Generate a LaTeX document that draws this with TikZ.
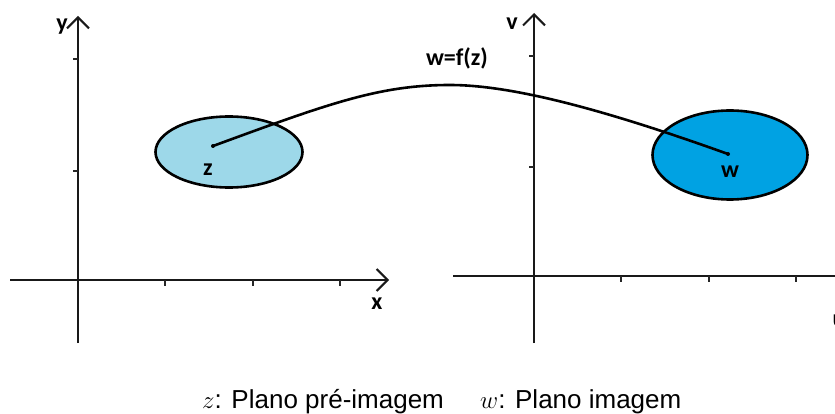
\documentclass[tikz,border=0pt]{standalone}
\usepackage{fontspec}
\setmainfont{Liberation Sans}
\newfontfamily\labelfont{Carlito}
\usetikzlibrary{arrows.meta, positioning, shapes.geometric}
\definecolor{zblue}{HTML}{9DD8E9}
\definecolor{wblue}{HTML}{00A2E3}

\begin{document}
\begin{tikzpicture}[
    x=1pt, y=-1pt,
    axis/.style={line width=2pt, draw=black!90},
    axisarrow/.style={axis, -{Straight Barb[length=11pt, width=22pt, line width=2pt]}},
    tick/.style={line width=1.6pt, draw=black!85},
    region/.style={ellipse, draw=black, line width=2.6pt, inner sep=0pt},
    lbl/.style={font=\labelfont\bfseries\fontsize{24}{24}\selectfont, inner sep=0pt},
    caption/.style={font=\fontsize{26}{26}\selectfont, inner sep=0pt, anchor=base west},
    mapping/.style={line width=2.6pt, line cap=round}
]
\useasboundingbox (0,0) rectangle (835,414);
\clip (0,0) rectangle (835,414);

% Axes (left plane)
\coordinate (zxs) at (10,280);
\coordinate (zxe) at (389,280);
\coordinate (zys) at (78,343);
\coordinate (zye) at (78,16);
\draw[axisarrow] (zxs) -- (zxe);
\draw[axisarrow] (zys) -- (zye);
\foreach \tx in {165,253,340}
    \draw[tick] (\tx,280) -- (\tx,286);
\foreach \ty in {59,171}
    \draw[tick] (73,\ty) -- (78,\ty);
\node[lbl] (ylbl) at (62,27) {y};
\node[lbl] (xlbl) at (377,304) {x};

% Axes (right plane)
\coordinate (wxs) at (453,276);
\coordinate (wxe) at (840,276);
\coordinate (wys) at (534,343);
\coordinate (wye) at (534,13);
\draw[axis] (wxs) -- (wxe);
\draw[axisarrow] (wys) -- (wye);
\foreach \tx in {621,709,796}
    \draw[tick] (\tx,276) -- (\tx,282);
\foreach \ty in {56,167}
    \draw[tick] (529,\ty) -- (534,\ty);
\node[lbl] (vlbl) at (512,24) {v};
\node[lbl, anchor=west] (ulbl) at (832.5,321) {u};

% Regions
\node[region, fill=zblue, minimum width=147pt, minimum height=71pt] (zset) at (229,152) {};
\node[region, fill=wblue, minimum width=155pt, minimum height=89pt] (wset) at (730,155) {};
\coordinate (zpt) at (213,146);
\coordinate (wpt) at (728,154);
\node[lbl] (zlbl) at (208,170) {z};
\node[lbl] (wlbl) at (730,172) {w};

% Mapping curve
\draw[mapping] (zpt) .. controls (330,103) and (380,85) .. (450,85)
    .. controls (510,85) and (600,108) .. (wpt);
\fill (zpt) circle (2pt);
\fill (wpt) circle (2pt);
\node[lbl] (map) at (457,58) {w=f(z)};

% Caption
\node[caption] (zcap) at (202,408) {$z$: Plano pré-imagem};
\node[caption] (wcap) at (480,408) {$w$: Plano imagem};

\end{tikzpicture}
\end{document}
